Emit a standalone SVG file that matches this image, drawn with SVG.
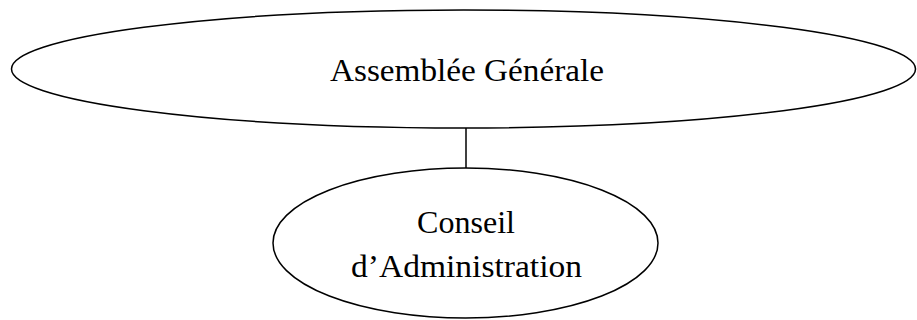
<svg xmlns="http://www.w3.org/2000/svg" width="917" height="320" viewBox="0 0 917 320">
<style>
.node{fill:#fff;stroke:#000;stroke-width:1.5}
.lbl{font-family:"Liberation Serif","Times New Roman",serif;font-size:31px;fill:#000;text-anchor:middle}
.conn{stroke:#000;stroke-width:1.5;fill:none}
</style>
<rect width="917" height="320" fill="#fff"/>
<g id="connectors">
<line class="conn" x1="466" y1="128" x2="466" y2="168"/>
</g>
<g id="assemblee">
<ellipse class="node" cx="463.5" cy="69" rx="452" ry="59"/>
<text class="lbl" x="467" y="81" textLength="274" lengthAdjust="spacingAndGlyphs">Assemblée Générale</text>
</g>
<g id="conseil">
<ellipse class="node" cx="465.5" cy="243" rx="192.5" ry="75"/>
<text class="lbl" x="466" y="233" textLength="98" lengthAdjust="spacingAndGlyphs">Conseil</text>
<text class="lbl" x="466.5" y="277" textLength="231" lengthAdjust="spacingAndGlyphs">d’Administration</text>
</g>
</svg>
